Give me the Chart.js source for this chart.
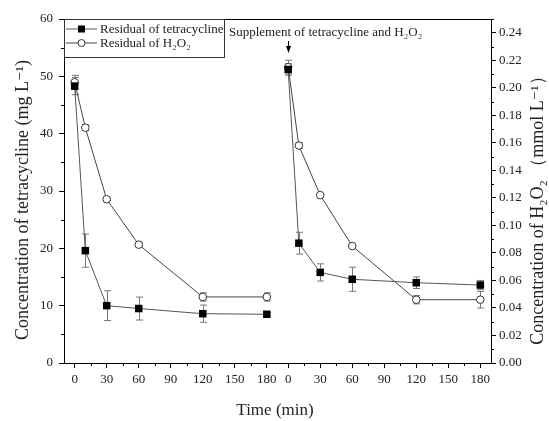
<!DOCTYPE html>
<html>
<head>
<meta charset="utf-8">
<script src="https://cdn.jsdelivr.net/npm/chart.js"></script>
<style>
  body { margin: 0; background: #fff; }
  #wrap { width: 549px; height: 421px; }
</style>
</head>
<body>
<div id="wrap"><canvas id="chart"></canvas></div>
<script>
// sampling times (min) of each run; run 2 is drawn shifted by runOffset on the x axis
const times = [0, 10, 30, 60, 120, 180];
const runOffset = 200;
const xTickValues = [0, 30, 60, 90, 120, 150, 180];

// residual tetracycline (mg/L) and standard deviation
const tcRun1 = [48.3, 19.6, 10.0, 9.5, 8.6, 8.5];
const tcErr1 = [1.5, 2.9, 2.6, 2.0, 1.5, 0.3];
const tcRun2 = [51.2, 20.9, 15.8, 14.6, 14.0, 13.6];
const tcErr2 = [1.0, 1.9, 1.5, 2.1, 1.0, 0.8];

// residual H2O2 (mmol/L) and standard deviation
const hpRun1 = [0.204, 0.171, 0.119, 0.086, 0.048, 0.048];
const hpErr1 = [0.005, 0.002, 0.001, 0.001, 0.003, 0.003];
const hpRun2 = [0.215, 0.158, 0.122, 0.085, 0.046, 0.046];
const hpErr2 = [0.005, 0.002, 0.001, 0.001, 0.003, 0.006];

const serif = "'Liberation Serif', 'DejaVu Serif', serif";
const leftTitle = 'Concentration of tetracycline (mg L\u207B\u00B9)';
const rightTitle = 'Concentration of H\u2082O\u2082 \uFF08mmol L\u207B\u00B9\uFF09';
const bottomTitle = 'Time (min)';

function buildPoints(run1, err1, run2, err2) {
    const pts = [];
    times.forEach((t, i) => pts.push({x: t, y: run1[i], err: err1[i]}));
    pts.push({x: 190, y: null});
    times.forEach((t, i) => pts.push({x: t + runOffset, y: run2[i], err: err2[i]}));
    return pts;
}

const xTicks = [];
xTickValues.forEach(v => xTicks.push(v));
xTickValues.forEach(v => xTicks.push(v + runOffset));

// minor ticks, error bars, frame, titles, legend and annotation
const extras = {
    id: 'extras',
    beforeDatasetsDraw(chart) {
        const ctx = chart.ctx;
        ctx.save();
        ctx.strokeStyle = '#777';
        ctx.lineWidth = 1;
        chart.data.datasets.forEach((ds) => {
            const ys = chart.scales[ds.yAxisID];
            const xs = chart.scales.x;
            ds.data.forEach(p => {
                if (p.y == null || !p.err) return;
                const px = Math.round(xs.getPixelForValue(p.x)) + 0.5;
                const top = ys.getPixelForValue(p.y + p.err);
                const bot = ys.getPixelForValue(p.y - p.err);
                ctx.beginPath();
                ctx.moveTo(px, top); ctx.lineTo(px, bot);
                ctx.moveTo(px - 3.5, top); ctx.lineTo(px + 3.5, top);
                ctx.moveTo(px - 3.5, bot); ctx.lineTo(px + 3.5, bot);
                ctx.stroke();
            });
        });
        ctx.restore();
    },
    afterDraw(chart) {
        const ctx = chart.ctx;
        const a = chart.chartArea;
        const xs = chart.scales.x, y = chart.scales.y, y1 = chart.scales.y1;
        ctx.save();
        ctx.strokeStyle = '#000';
        ctx.lineWidth = 1;
        // top frame line
        ctx.beginPath();
        ctx.moveTo(a.left, a.top + 0.5); ctx.lineTo(a.right, a.top + 0.5);
        ctx.stroke();
        // minor ticks
        ctx.beginPath();
        for (let i = 0; i < xTicks.length; i++) {
            const v = xTicks[i] + 15;
            if (xTicks[i] === 180 || xTicks[i] === 380) continue;
            const px = Math.round(xs.getPixelForValue(v)) + 0.5;
            ctx.moveTo(px, a.bottom); ctx.lineTo(px, a.bottom + 3);
        }
        for (let v = 5; v < 60; v += 10) {
            const py = Math.round(y.getPixelForValue(v)) + 0.5;
            ctx.moveTo(a.left, py); ctx.lineTo(a.left - 3, py);
        }
        for (let v = 0.01; v < 0.25; v += 0.02) {
            const py = Math.round(y1.getPixelForValue(v)) + 0.5;
            ctx.moveTo(a.right, py); ctx.lineTo(a.right + 3, py);
        }
        ctx.stroke();

        // axis titles
        ctx.fillStyle = '#222';
        ctx.textAlign = 'center';
        ctx.textBaseline = 'middle';
        ctx.font = '18px ' + serif;
        ctx.save();
        ctx.translate(23, 200);
        ctx.rotate(-Math.PI / 2);
        ctx.fillText(leftTitle, 0, 0);
        ctx.restore();
        ctx.save();
        ctx.translate(538, 206);
        ctx.rotate(-Math.PI / 2);
        ctx.fillText(rightTitle, 0, 0);
        ctx.restore();
        ctx.font = '17px ' + serif;
        ctx.fillText(bottomTitle, 275, 411);

        // legend box
        const lx = a.left, ly = a.top, lw = 160, lh = 38;
        ctx.textAlign = 'left';
        ctx.strokeStyle = '#333';
        ctx.strokeRect(lx + 0.5, ly + 0.5, lw, lh);
        ctx.font = '13px ' + serif;
        chart.data.datasets.forEach((ds, i) => {
            const cy = ly + 10 + i * 14;
            ctx.strokeStyle = ds.borderColor;
            ctx.beginPath();
            ctx.moveTo(lx + 2, cy); ctx.lineTo(lx + 33, cy);
            ctx.stroke();
            ctx.beginPath();
            if (ds.pointStyle === 'rect') {
                ctx.fillStyle = '#000';
                ctx.fillRect(lx + 14, cy - 3.5, 7, 7);
            } else {
                ctx.fillStyle = '#fff';
                ctx.strokeStyle = '#333';
                ctx.arc(lx + 17.5, cy, 3.5, 0, Math.PI * 2);
                ctx.fill(); ctx.stroke();
            }
            ctx.fillStyle = '#222';
            ctx.fillText(ds.label, lx + 36, cy + 1);
        });

        // supplement annotation
        const ax = Math.round(xs.getPixelForValue(runOffset)) + 0.5;
        ctx.fillText('Supplement of tetracycline and H\u2082O\u2082', 229, 33);
        ctx.strokeStyle = '#000';
        ctx.beginPath();
        ctx.moveTo(ax, 41); ctx.lineTo(ax, 48);
        ctx.stroke();
        ctx.fillStyle = '#000';
        ctx.beginPath();
        ctx.moveTo(ax - 2.5, 46); ctx.lineTo(ax + 2.5, 46); ctx.lineTo(ax, 53);
        ctx.closePath();
        ctx.fill();
        ctx.restore();
    }
};

const tickFont = {family: serif, size: 13};

new Chart(document.getElementById('chart'), {
    type: 'line',
    data: {
        datasets: [
            {
                label: 'Residual of tetracycline',
                data: buildPoints(tcRun1, tcErr1, tcRun2, tcErr2),
                yAxisID: 'y',
                borderColor: '#555',
                borderWidth: 1,
                pointStyle: 'rect',
                pointRadius: 5.3,
                pointBackgroundColor: '#000',
                pointBorderColor: '#000',
                pointBorderWidth: 0,
                tension: 0,
                spanGaps: false
            },
            {
                label: 'Residual of H\u2082O\u2082',
                data: buildPoints(hpRun1, hpErr1, hpRun2, hpErr2),
                yAxisID: 'y1',
                borderColor: '#444',
                borderWidth: 1,
                pointStyle: 'circle',
                pointRadius: 3.8,
                pointBackgroundColor: '#fff',
                pointBorderColor: '#333',
                pointBorderWidth: 1,
                tension: 0,
                spanGaps: false
            }
        ]
    },
    options: {
        responsive: true,
        maintainAspectRatio: false,
        animation: false,
        layout: {padding: {top: 19, left: 0, right: 0, bottom: 0}},
        plugins: {legend: {display: false}, tooltip: {enabled: false}},
        scales: {
            x: {
                type: 'linear',
                min: -10,
                max: 390,
                border: {color: '#000', width: 1},
                grid: {drawOnChartArea: false, tickLength: 5, color: '#000'},
                ticks: {
                    font: tickFont, color: '#222', padding: 4, maxRotation: 0,
                    callback: v => (v >= runOffset ? v - runOffset : v)
                },
                afterBuildTicks: s => { s.ticks = xTicks.map(v => ({value: v})); },
                afterFit: s => { s.height = 58; }
            },
            y: {
                position: 'left',
                min: 0,
                max: 60,
                border: {color: '#000', width: 1},
                grid: {drawOnChartArea: false, tickLength: 5, color: '#000'},
                ticks: {font: tickFont, color: '#222', stepSize: 10, padding: 6},
                afterFit: s => { s.width = 64; }
            },
            y1: {
                position: 'right',
                min: 0,
                max: 0.25,
                border: {color: '#000', width: 1},
                grid: {drawOnChartArea: false, tickLength: 5, color: '#000'},
                ticks: {font: tickFont, color: '#222', padding: 3, callback: v => v.toFixed(2)},
                afterBuildTicks: s => {
                    const t = [];
                    for (let i = 0; i <= 12; i++) t.push({value: +(i * 0.02).toFixed(2)});
                    s.ticks = t;
                },
                afterFit: s => { s.width = 58; }
            }
        }
    },
    plugins: [extras]
});
</script>
</body>
</html>
